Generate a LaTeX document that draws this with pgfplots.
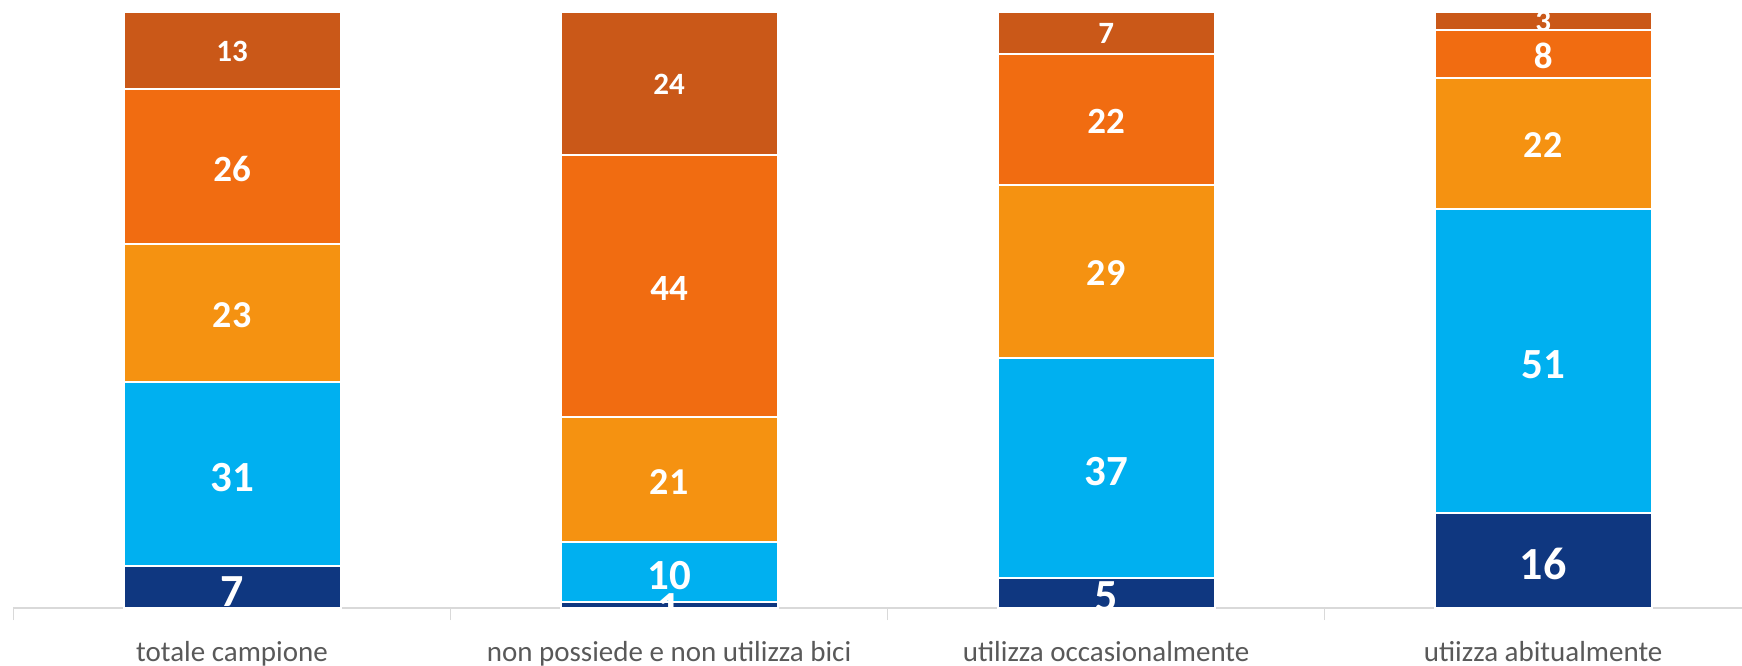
\documentclass[border=0pt]{standalone}
\usepackage{fontspec}
\setmainfont{Carlito}
\usepackage{pgfplots}
\usepackage{pgfplotstable}
\pgfplotsset{compat=1.18}
\definecolor{cA}{HTML}{0F3780}
\definecolor{cB}{HTML}{00B0F0}
\definecolor{cC}{HTML}{F59211}
\definecolor{cD}{HTML}{F16C11}
\definecolor{cE}{HTML}{CA5818}
\definecolor{axgrey}{HTML}{D9D9D9}
\definecolor{labgrey}{HTML}{595959}
\pgfplotstableread{
x v1 v2 v3 v4 v5
0 7 31 23 26 13
1 1 10 21 44 24
2 5 37 29 22 7
3 16 51 22 8 3
}\data
\begin{document}
\begin{tikzpicture}
\begin{axis}[name=ax, scale only axis, width=864.25pt, height=298pt,
  ybar stacked, bar width=108.5pt,
  ymin=0, ymax=100, xmin=-0.5, xmax=3.455, enlargelimits=false,
  axis y line=none, axis x line*=bottom,
  x axis line style={draw=axgrey, line width=0.75pt},
  xtick={0,1,2,3},
  xticklabels={totale campione, non possiede e non utilizza bici, utilizza occasionalmente, utiizza abitualmente},
  major tick length=0pt,
  minor xtick={-0.5,0.5,1.5,2.5}, minor tick length=6pt, tick align=outside,
  minor tick style={draw=axgrey, line width=0.75pt},
  xticklabel style={anchor=base, yshift=-26.5pt, font=\fontsize{14.5}{14.5}\selectfont, text=labgrey},
  point meta=explicit symbolic,
  nodes near coords,
  clip marker paths=true,
]
\addplot[fill=cA, draw=white, line width=1pt,
  nodes near coords style={anchor=center, yshift=-2pt, text=white, font=\fontsize{23}{23}\selectfont\bfseries}]
  table[x=x, y=v1, meta=v1]{\data};
\addplot[fill=cB, draw=white, line width=1pt,
  nodes near coords style={anchor=center, yshift=-1.8pt, text=white, font=\fontsize{21.5}{21.5}\selectfont\bfseries}]
  table[x=x, y=v2, meta=v2]{\data};
\addplot[fill=cC, draw=white, line width=1pt,
  nodes near coords style={anchor=center, yshift=-1pt, text=white, font=\fontsize{19}{19}\selectfont\bfseries}]
  table[x=x, y=v3, meta=v3]{\data};
\addplot[fill=cD, draw=white, line width=1pt,
  nodes near coords style={anchor=center, yshift=-1pt, text=white, font=\fontsize{18.5}{18.5}\selectfont\bfseries}]
  table[x=x, y=v4, meta=v4]{\data};
\addplot[fill=cE, draw=white, line width=1pt,
  nodes near coords style={anchor=center, yshift=-0.5pt, text=white, font=\fontsize{15.5}{15.5}\selectfont\bfseries}]
  table[x=x, y=v5, meta=v5]{\data};
\end{axis}
\pgfresetboundingbox
\useasboundingbox ([xshift=-6.75pt,yshift=-28.5pt]ax.south west) rectangle ([yshift=6pt]ax.north east);
\end{tikzpicture}
\end{document}
